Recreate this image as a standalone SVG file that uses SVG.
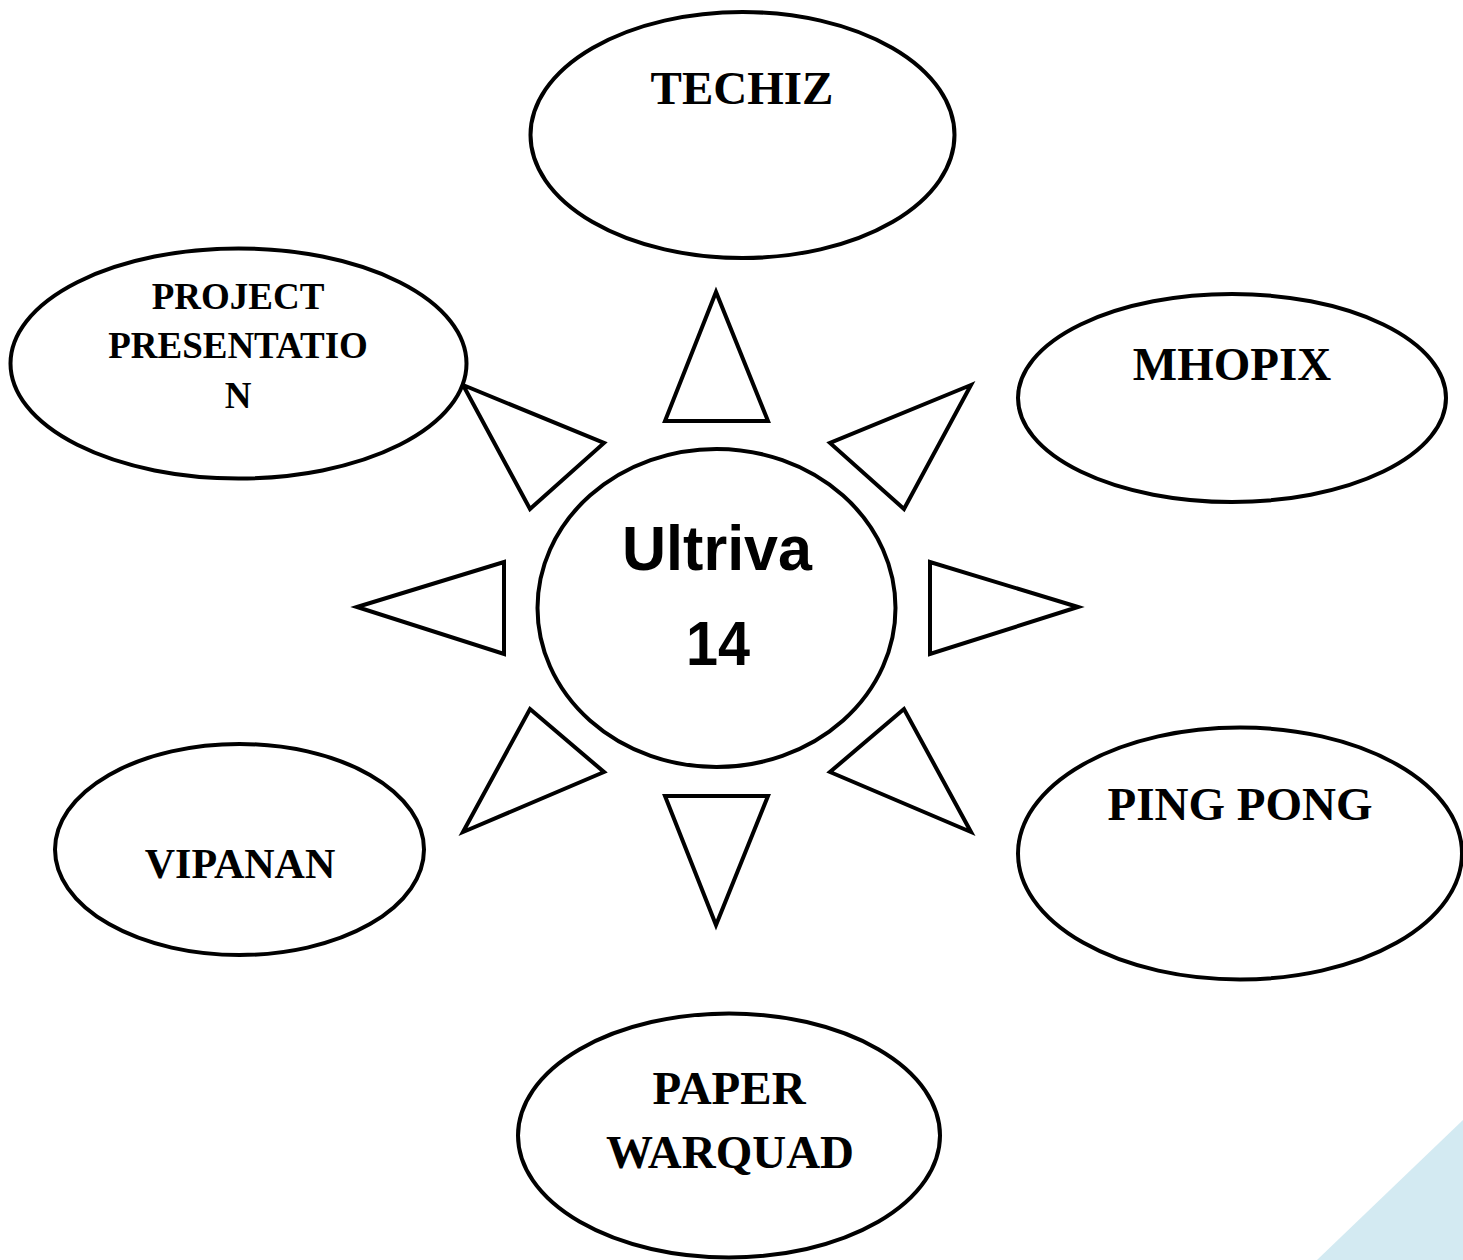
<svg xmlns="http://www.w3.org/2000/svg" width="1463" height="1260" viewBox="0 0 1463 1260">
  <style>
    .shape { fill: #ffffff; stroke: #000000; stroke-width: 4; stroke-linejoin: miter; }
    .ray { fill: #ffffff; stroke: #000000; stroke-width: 4; stroke-linejoin: miter; }
    .label { font-family: "Liberation Serif", "Times New Roman", serif; font-weight: bold; fill: #000000; text-anchor: middle; }
    .hub { font-family: "Liberation Sans", Arial, sans-serif; font-weight: bold; fill: #000000; text-anchor: middle; }
  </style>
  <rect width="1463" height="1260" fill="#ffffff"/>
  <!-- corner accent -->
  <polygon points="1463,1120 1463,1260 1317,1260" fill="#d3eaf2"/>

  <!-- rays around the hub -->
  <g id="connectors">
    <polygon class="ray" points="716,292 665,421 768,421"/>
    <polygon class="ray" points="665,796 768,796 716,925"/>
    <polygon class="ray" points="357,607 504,562 504,654"/>
    <polygon class="ray" points="1078,607 930,562 930,654"/>
    <polygon class="ray" points="463,385 604,443 530,509"/>
    <polygon class="ray" points="971,385 830,443 904,509"/>
    <polygon class="ray" points="530,709 604,772 463,832"/>
    <polygon class="ray" points="904,709 830,772 971,832"/>
  </g>

  <g id="hub">
    <ellipse class="shape" cx="716.5" cy="608" rx="179" ry="159"/>
    <text class="hub" x="717" y="570" font-size="63" textLength="190" lengthAdjust="spacingAndGlyphs">Ultriva</text>
    <text class="hub" x="718" y="665" font-size="63" textLength="64" lengthAdjust="spacingAndGlyphs">14</text>
  </g>

  <g id="techiz">
    <ellipse class="shape" cx="742.5" cy="135" rx="212" ry="123"/>
    <text class="label" x="742" y="104" font-size="47">TECHIZ</text>
  </g>

  <g id="project-presentation">
    <ellipse class="shape" cx="238.5" cy="363.5" rx="228" ry="115"/>
    <text class="label" x="238" y="309" font-size="37">PROJECT</text>
    <text class="label" x="238" y="358" font-size="37">PRESENTATIO</text>
    <text class="label" x="238" y="408" font-size="37">N</text>
  </g>

  <g id="mhopix">
    <ellipse class="shape" cx="1232" cy="398" rx="214" ry="104"/>
    <text class="label" x="1232" y="380" font-size="47">MHOPIX</text>
  </g>

  <g id="ping-pong">
    <ellipse class="shape" cx="1240" cy="853.5" rx="222" ry="126"/>
    <text class="label" x="1240" y="820" font-size="47">PING PONG</text>
  </g>

  <g id="vipanan">
    <ellipse class="shape" cx="239.5" cy="849.5" rx="184.5" ry="105.5"/>
    <text class="label" x="240" y="878" font-size="42">VIPANAN</text>
  </g>

  <g id="paper-warquad">
    <ellipse class="shape" cx="729" cy="1135.5" rx="211" ry="122"/>
    <text class="label" x="729" y="1104" font-size="47">PAPER</text>
    <text class="label" x="730" y="1168" font-size="47">WARQUAD</text>
  </g>
</svg>
